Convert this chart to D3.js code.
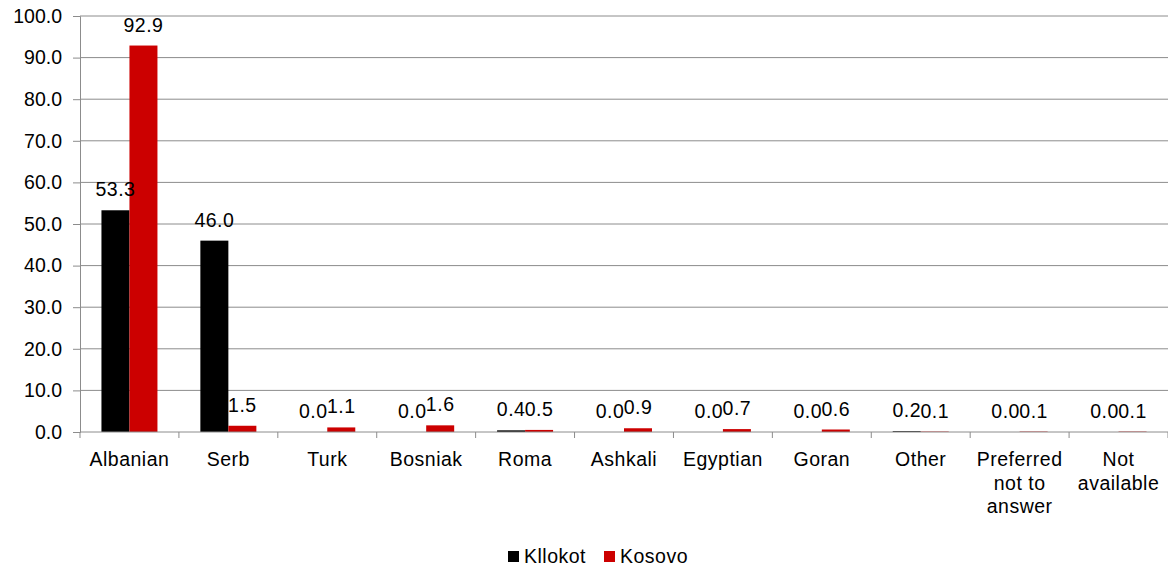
<!DOCTYPE html>
<html>
<head>
<meta charset="utf-8">
<script src="https://cdn.jsdelivr.net/npm/d3@7"></script>
<style>
  body { margin: 0; background: #fff; }
  text { font-family: "Liberation Sans", Arial, sans-serif; letter-spacing: 0.5px; }
</style>
</head>
<body>
<svg id="chart" width="1168" height="568"></svg>
<script>
const categories = ["Albanian", "Serb", "Turk", "Bosniak", "Roma", "Ashkali", "Egyptian", "Goran", "Other", "Preferred not to answer", "Not available"];
const kllokot = [53.3, 46.0, 0.0, 0.0, 0.4, 0.0, 0.0, 0.0, 0.2, 0.0, 0.0];
const kosovo = [92.9, 1.5, 1.1, 1.6, 0.5, 0.9, 0.7, 0.6, 0.1, 0.1, 0.1];
const seriesNames = ["Kllokot", "Kosovo"];
const seriesColors = ["#000000", "#cc0000"];
const yTicks = [0, 10, 20, 30, 40, 50, 60, 70, 80, 90, 100];

// line breaks as in the original axis labels
const labelLines = {
    "Preferred not to answer": ["Preferred", "not to", "answer"],
    "Not available": ["Not", "available"]
};

const svg = d3.select("#chart");
const plotLeft = 80, plotRight = 1168, plotTop = 16, plotBottom = 432;
const fontSize = 19.5;

const x = d3.scaleBand().domain(categories).range([plotLeft, plotRight]);
const x1 = d3.scaleBand().domain(seriesNames).range([0, 56]);
const y = d3.scaleLinear().domain([0, 100]).range([plotBottom, plotTop]);

// gridlines
svg.append("g")
    .selectAll("line")
    .data(yTicks.slice(1))
    .enter().append("line")
    .attr("x1", plotLeft).attr("x2", plotRight)
    .attr("y1", d => y(d)).attr("y2", d => y(d))
    .attr("stroke", "#8c8c8c").attr("stroke-width", 1);

// y axis
const yAxis = svg.append("g")
    .attr("transform", `translate(${plotLeft},0)`)
    .call(d3.axisLeft(y).tickValues(yTicks).tickFormat(d3.format(".1f")).tickSize(7).tickPadding(11));
yAxis.select(".domain").attr("stroke", "#8c8c8c");
yAxis.selectAll(".tick line").attr("stroke", "#8c8c8c");
yAxis.selectAll(".tick text").attr("font-size", fontSize).attr("fill", "#000")
    .style("font-family", "'Liberation Sans', Arial, sans-serif")
    .style("letter-spacing", "0px");

// bars
const data = categories.map((c, i) => ({ cat: c, values: [kllokot[i], kosovo[i]] }));
const groups = svg.append("g").selectAll("g")
    .data(data)
    .enter().append("g")
    .attr("transform", d => `translate(${x(d.cat) + x.bandwidth() / 2 - 28},0)`);

groups.selectAll("rect")
    .data(d => d.values.map((v, k) => ({ v: v, s: seriesNames[k], k: k })))
    .enter().append("rect")
    .attr("x", d => x1(d.s))
    .attr("width", x1.bandwidth())
    .attr("y", d => y(d.v))
    .attr("height", d => y(0) - y(d.v))
    .attr("fill", d => seriesColors[d.k]);

groups.selectAll("text")
    .data(d => d.values.map((v, k) => ({ v: v, s: seriesNames[k] })))
    .enter().append("text")
    .attr("x", d => x1(d.s) + x1.bandwidth() / 2)
    .attr("y", d => y(d.v) - 14)
    .attr("text-anchor", "middle")
    .attr("font-size", fontSize)
    .text(d => d.v.toFixed(1));

// x axis
const xAxis = svg.append("g")
    .attr("transform", `translate(0,${plotBottom})`);
xAxis.append("line")
    .attr("x1", plotLeft).attr("x2", plotRight)
    .attr("stroke", "#8c8c8c");
xAxis.selectAll("line.tick")
    .data(categories.map(c => x(c)).concat([plotRight]))
    .enter().append("line")
    .attr("class", "tick")
    .attr("x1", d => d).attr("x2", d => d)
    .attr("y1", 0).attr("y2", 6)
    .attr("stroke", "#8c8c8c");

xAxis.selectAll("text")
    .data(categories)
    .enter().append("text")
    .attr("text-anchor", "middle")
    .attr("font-size", fontSize)
    .attr("transform", d => `translate(${x(d) + x.bandwidth() / 2},34)`)
    .each(function(d) {
        const lines = labelLines[d] || [d];
        d3.select(this).selectAll("tspan")
            .data(lines)
            .enter().append("tspan")
            .attr("x", 0)
            .attr("dy", (l, i) => i === 0 ? 0 : 23.5)
            .text(l => l);
    });

// legend
const legend = svg.append("g").attr("transform", "translate(508,551)");
const legendOffsets = [0, 96];
seriesNames.forEach((s, i) => {
    const g = legend.append("g").attr("transform", `translate(${legendOffsets[i]},0)`);
    g.append("rect").attr("width", 11).attr("height", 11).attr("fill", seriesColors[i]);
    g.append("text").attr("x", 16).attr("y", 12).attr("font-size", fontSize).text(s);
});
</script>
</body>
</html>
